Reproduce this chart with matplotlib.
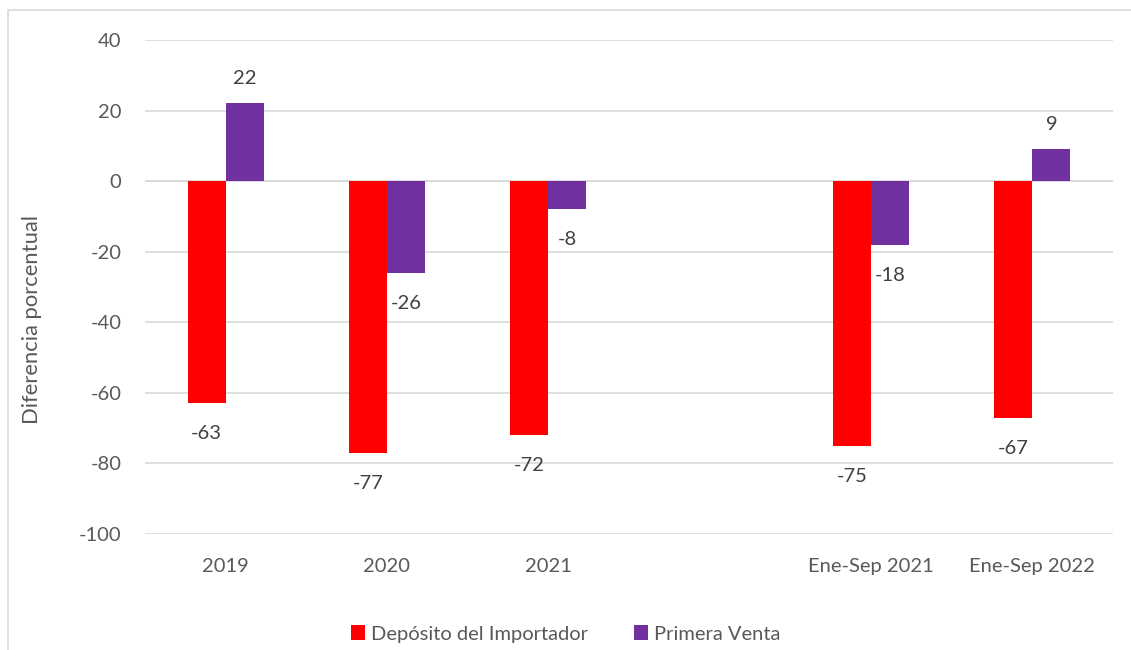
import numpy as np
import matplotlib.pyplot as plt
from matplotlib.patches import Rectangle

plt.rcParams['font.family'] = ['Lato', 'DejaVu Sans']
plt.rcParams['axes.unicode_minus'] = False

categories = ['2019', '2020', '2021', '', 'Ene-Sep 2021', 'Ene-Sep 2022']
deposito = [-63, -77, -72, np.nan, -75, -67]
primera = [22, -26, -8, np.nan, -18, 9]
deposito_labels = ['-63', '-77', '-72', '', '-75', '-67']
primera_labels = ['22', '-26', '-8', '', '-18', '9']

red = '#FF0000'
purple = '#7030A0'
tick_color = '#595959'
label_color = '#404040'

fig = plt.figure(figsize=(11.31, 6.5), dpi=100)
ax = fig.add_axes([0.1282, 0.1785, 0.8559, 0.76])

# chart border like the spreadsheet frame
fig.patches.append(Rectangle((8 / 1131, -0.1), 1.2, 1 - 10 / 650 + 0.1,
                             transform=fig.transFigure, fill=False,
                             edgecolor='#D9D9D9', linewidth=1.2))

x = np.arange(len(categories))
w = 0.236
bars_d = ax.bar(x - w / 2, deposito, w, color=red, label='Depósito del Importador', zorder=3)
bars_p = ax.bar(x + w / 2, primera, w, color=purple, label='Primera Venta', zorder=3)

for bars, labels in ((bars_d, deposito_labels), (bars_p, primera_labels)):
    for bar, lab in zip(bars, labels):
        h = bar.get_height()
        if not lab or np.isnan(h):
            continue
        off = 18 if h > 0 else -22
        ax.annotate(lab, (bar.get_x() + bar.get_width() / 2, h),
                    xytext=(0, off), textcoords='offset points',
                    ha='center', va='center', fontsize=14.5, color=label_color)

ax.set_xlim(-0.5, len(categories) - 0.5)
ax.set_ylim(-100, 40)
ax.set_yticks(range(-100, 41, 20))
ax.set_xticks(x)
ax.set_xticklabels(categories)
ax.grid(axis='y', color='#D9D9D9', linewidth=1.2, zorder=0)
ax.axhline(0, color='#D9D9D9', linewidth=1.2, zorder=2)
for s in ax.spines.values():
    s.set_visible(False)
ax.tick_params(axis='both', length=0, labelsize=14.5, labelcolor=tick_color)
ax.tick_params(axis='x', pad=17)
ax.tick_params(axis='y', pad=17)
fig.text(32 / 1131, 1 - 320 / 650, 'Diferencia porcentual', rotation=90,
         ha='center', va='center', fontsize=15.8, color=tick_color)

fig.legend(loc='center', bbox_to_anchor=(0.5, 1 - 634 / 650), ncol=2, frameon=False,
           fontsize=14.5, labelcolor=tick_color, handlelength=0.7, handleheight=0.7,
           handletextpad=0.3, columnspacing=2.3)

fig.savefig('out.png', dpi=100)
